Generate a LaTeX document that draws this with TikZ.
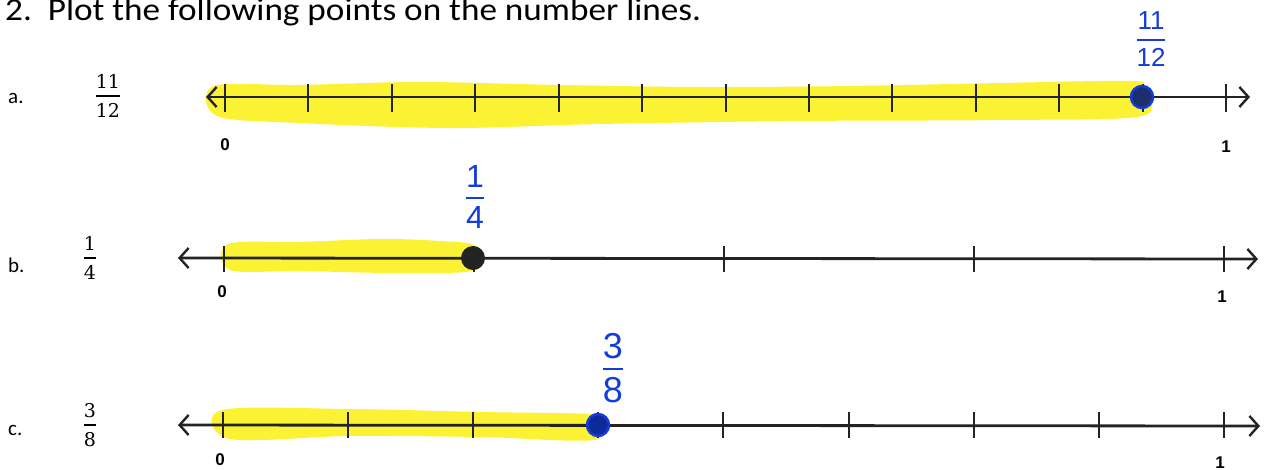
\documentclass[tikz,border=0pt]{standalone}
\usepackage{amsmath}
\usepackage{fontspec}
\setmainfont{Carlito}
\newfontfamily\handfont{Liberation Sans}
\newfontfamily\numfont{Liberation Sans}
\newfontfamily\fracfont{DejaVu Serif}
\usetikzlibrary{arrows.meta}
\definecolor{hl}{RGB}{250,242,50}
\definecolor{pen}{RGB}{20,60,220}
\definecolor{axis}{RGB}{35,35,35}
\newcommand{\handfrac}[2]{$\genfrac{}{}{2.4pt}{0}{\mbox{#1}}{\mbox{#2}}$}
\newcommand{\printfrac}[2]{$\genfrac{}{}{2pt}{0}{\mbox{#1}}{\mbox{#2}}$}
\tikzset{
  axisline/.style={draw=axis,line width=2.8pt,
    {Straight Barb[length=9pt,width=20pt,line width=2.4pt]}-{Straight Barb[length=9pt,width=20pt,line width=2.4pt]}},
  tickmark/.style={draw=axis,line width=2pt},
  hlfill/.style={fill=hl},
  endlabel/.style={font=\numfont\bfseries\fontsize{17}{17}\selectfont,inner sep=0pt},
  itemlabel/.style={font=\fontsize{21}{21}\selectfont,inner sep=0pt,anchor=west},
  fraclabel/.style={font=\fracfont\fontsize{19}{19}\selectfont,inner sep=0pt},
  handlabel/.style={text=pen,inner sep=0pt},
  dot/.style={circle,minimum size=22pt,inner sep=0pt},
}
\begin{document}
\begin{tikzpicture}[x=1pt,y=-1pt]
\useasboundingbox (0,0) rectangle (1275,469);
% title
\node[anchor=base west,inner sep=0pt,xscale=1.1,font=\fontsize{32}{32}\selectfont] (title) at (5,20) {2.\ \ Plot the following points on the number lines.};

% ---------- a ----------
\fill[hlfill] plot[smooth cycle,tension=0.55] coordinates {(214,86) (300,85) (420,82) (560,85) (700,87) (850,86) (1000,83) (1132,81) (1142,88) (1142,116) (1000,120) (800,121) (600,124) (450,128) (300,123) (217,116)};
\node[itemlabel] (la) at (8,98) {a.};
\node[fraclabel] (fa) at (108,96) {\printfrac{11}{12}};
\coordinate (a0) at (206,97);
\coordinate (a1) at (1250,97);
\draw[axisline] (a0) -- (a1);
\foreach \i in {0,...,12} {
  \draw[tickmark] ({225+\i*83.42},84) -- ({225+\i*83.42},112);
}
\node[endlabel] (az) at (225,145) {0};
\node[endlabel] (ao) at (1226,147) {1};
\node[dot,draw=pen,line width=2.5pt,fill=axis!60!pen] (pa) at (1142,97) {};
\node[handlabel,font=\handfont\fontsize{26}{26}\selectfont] (ha) at (1151,39) {\handfrac{11}{12}};

% ---------- b ----------
\fill[hlfill] plot[smooth cycle,tension=0.55] coordinates {(228,244) (300,242) (380,239) (440,241) (476,246) (476,270) (400,273) (300,271) (230,270)};
\node[itemlabel] (lb) at (8,265) {b.};
\node[fraclabel] (fb) at (90,258) {\printfrac{1}{4}};
\coordinate (b0) at (178,258);
\coordinate (b1) at (1258,259);
\draw[axisline] (b0) -- (b1);
\foreach \i in {0,...,4} {
  \draw[tickmark] ({224+\i*250},246) -- ({224+\i*250},272);
}
\node[endlabel] (bz) at (222,292) {0};
\node[endlabel] (bo) at (1222,297) {1};
\node[dot,minimum size=24pt,fill=axis] (pb) at (473,258) {};
\node[handlabel,font=\handfont\fontsize{32}{32}\selectfont] (hb) at (475,197) {\handfrac{1}{4}};

% ---------- c ----------
\fill[hlfill] plot[smooth cycle,tension=0.55] coordinates {(222,410) (350,409) (480,412) (590,414) (596,420) (594,440) (480,437) (350,436) (230,439)};
\node[itemlabel] (lc) at (8,430) {c.};
\node[fraclabel] (fc) at (90,425) {\printfrac{3}{8}};
\coordinate (c0) at (178,425);
\coordinate (c1) at (1260,426);
\draw[axisline] (c0) -- (c1);
\foreach \i in {0,...,8} {
  \draw[tickmark] ({223+\i*125.1},412) -- ({223+\i*125.1},438);
}
\node[endlabel] (cz) at (220,460) {0};
\node[endlabel] (co) at (1220,463) {1};
\node[dot,draw=pen,line width=2.5pt,fill=pen!70!black] (pc) at (598,425) {};
\node[handlabel,font=\handfont\fontsize{36}{36}\selectfont] (hc) at (613,368) {\handfrac{3}{8}};
\end{tikzpicture}
\end{document}
